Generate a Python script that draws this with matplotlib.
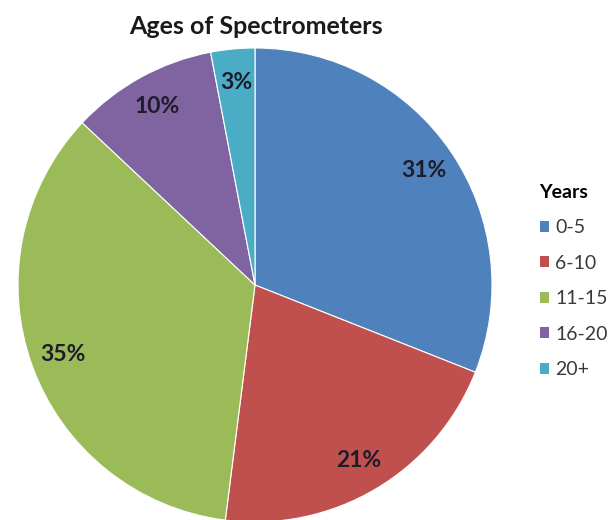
import matplotlib
matplotlib.use("Agg")
import matplotlib.pyplot as plt
from matplotlib.patches import Patch

categories = ["0-5", "6-10", "11-15", "16-20", "20+"]
values = [31, 21, 35, 10, 3]
colors = ["#4F81BD", "#C0504D", "#9BBB59", "#8064A2", "#4BACC6"]
title = "Ages of Spectrometers"
legend_title = "Years"

plt.rcParams['font.family'] = ['Lato', 'DejaVu Sans']

W, H = 614, 520
fig = plt.figure(figsize=(W/100, H/100), dpi=100)
cx, cy, r = 255, 285, 237
ax = fig.add_axes([(cx - r)/W, (H - cy - r)/H, 2*r/W, 2*r/H])
wedges, _, autotexts = ax.pie(values, colors=colors, startangle=90, counterclock=False,
                              autopct="%1.0f%%", pctdistance=0.86,
                              wedgeprops=dict(linewidth=0.8, edgecolor="white"),
                              textprops=dict(fontsize=16.5, fontweight="bold",
                                             color="#1c1c2a"))
ax.set_xlim(-1, 1)
ax.set_ylim(-1, 1)
ax.set_aspect('equal')
ax.axis('off')

fig.text(256/W, 1 - 26/H, title, ha="center", va="center", fontsize=18,
         fontweight="bold", color="#1a1a1a")

handles = [Patch(facecolor=c, edgecolor="none") for c in colors]
leg = fig.legend(handles, categories, title=legend_title, loc="upper left",
                 bbox_to_anchor=(526/W, 1 - 170/H), frameon=False,
                 fontsize=14, handlelength=0.5, handleheight=0.5,
                 handletextpad=0.3, labelspacing=0.95, alignment="left",
                 borderpad=0.2)
leg.get_title().set_fontweight("bold")
leg.get_title().set_fontsize(14)
for t in leg.get_texts():
    t.set_color("#3a3a3a")

fig.savefig("out.png", dpi=100)
